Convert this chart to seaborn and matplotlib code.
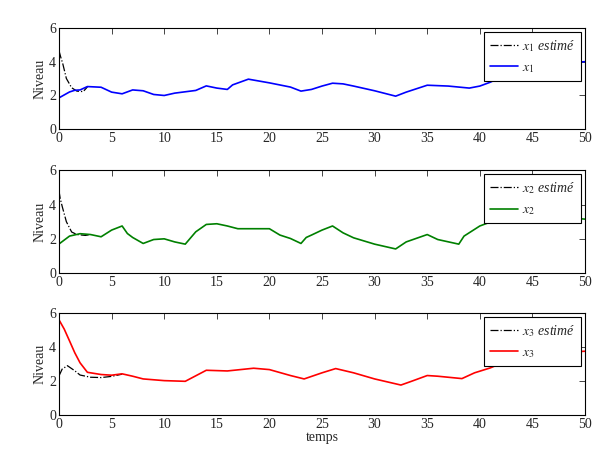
import matplotlib
matplotlib.use("Agg")
import matplotlib.pyplot as plt
import seaborn as sns

# ---- Data ----
t1 = [0, 1, 1.5, 2, 2.7, 4, 5, 6, 7, 8, 9, 10, 11, 13, 14, 15, 16, 16.5, 18, 20, 22, 23, 24, 25, 26, 27, 28, 30, 32, 33, 35, 37, 39, 40, 41, 42, 45, 48, 50]
x1 = [1.85, 2.2, 2.3, 2.32, 2.52, 2.48, 2.19, 2.09, 2.32, 2.27, 2.05, 1.99, 2.13, 2.29, 2.56, 2.43, 2.35, 2.62, 2.96, 2.74, 2.49, 2.25, 2.35, 2.55, 2.72, 2.68, 2.55, 2.27, 1.95, 2.19, 2.6, 2.55, 2.43, 2.55, 2.78, 3.08, 3.6, 3.9, 4.0]
t1e = [0, 0.15, 0.35, 0.7, 1.2, 1.7, 2.3, 2.7]
x1e = [4.65, 4.3, 3.9, 3.0, 2.45, 2.25, 2.22, 2.5]

t2 = [0, 1, 2, 3, 4, 5, 6, 6.5, 7, 8, 9, 10, 11, 12, 13, 14, 15, 16, 17, 20, 21, 22, 23, 23.5, 24, 25, 26, 27, 28, 30, 32, 33, 35, 36, 38, 38.5, 40, 41, 42, 45, 48, 50]
x2 = [1.7, 2.16, 2.3, 2.25, 2.12, 2.51, 2.75, 2.31, 2.08, 1.73, 1.96, 2.0, 1.82, 1.69, 2.41, 2.84, 2.88, 2.75, 2.59, 2.59, 2.22, 2.02, 1.73, 2.08, 2.22, 2.51, 2.75, 2.35, 2.06, 1.69, 1.41, 1.82, 2.25, 1.96, 1.69, 2.16, 2.75, 2.98, 3.1, 3.3, 3.25, 3.15]
t2e = [0, 0.1, 0.3, 0.7, 1.2, 1.7, 2.5, 3]
x2e = [4.8, 4.4, 3.9, 3.0, 2.4, 2.25, 2.2, 2.25]

t3 = [0, 0.5, 1, 1.5, 2, 2.7, 4, 5, 6, 7, 8, 10, 12, 14, 16, 18.5, 20, 22, 23.3, 25, 26.3, 28, 30, 32.5, 33.5, 35, 36, 38.3, 39.5, 41, 42.5, 45, 48, 50]
x3 = [5.6, 5.05, 4.36, 3.66, 3.07, 2.51, 2.38, 2.34, 2.42, 2.28, 2.12, 2.02, 1.98, 2.63, 2.59, 2.75, 2.67, 2.32, 2.12, 2.48, 2.73, 2.48, 2.12, 1.76, 1.98, 2.32, 2.28, 2.14, 2.48, 2.77, 3.17, 3.5, 3.7, 3.75]
t3e = [0, 0.3, 0.8, 1.5, 2, 3, 4, 5, 6]
x3e = [2.3, 2.7, 2.9, 2.6, 2.35, 2.22, 2.2, 2.27, 2.4]

series = [
    (t1, x1, t1e, x1e, "blue", "1"),
    (t2, x2, t2e, x2e, "green", "2"),
    (t3, x3, t3e, x3e, "red", "3"),
]

# ---- Style ----
sns.set_style("white")
plt.rcParams['font.family'] = 'serif'
plt.rcParams['font.serif'] = ['Liberation Serif', 'DejaVu Serif']
plt.rcParams['mathtext.fontset'] = 'stix'
plt.rcParams['font.size'] = 10

colors = {"blue": (0, 0, 1), "green": (0, 0.5, 0), "red": (1, 0, 0)}
bottoms = [0.719, 0.405, 0.096]
heights = [0.220, 0.224, 0.222]

fig = plt.figure(figsize=(6.07, 4.59), dpi=100)

for i, (t, x, te, xe, col, k) in enumerate(series):
    ax = fig.add_axes([0.0972, bottoms[i], 0.8666, heights[i]])
    sns.lineplot(x=te, y=xe, ax=ax, color='black', linestyle='-.', linewidth=0.9,
                 sort=False, estimator=None, label=r'$x_{\mathit{' + k + r'}}$ estimé')
    sns.lineplot(x=t, y=x, ax=ax, color=colors[col], linewidth=1.2,
                 sort=False, estimator=None, label=r'$x_{\mathit{' + k + r'}}$')
    ax.set_xlim(0, 50)
    ax.set_ylim(0, 6)
    ax.set_xticks(range(0, 51, 5))
    ax.set_yticks([0, 2, 4, 6])
    ax.tick_params(direction='in', top=True, right=True, length=4, width=0.6,
                   labelsize=10, pad=2)
    for s in ax.spines.values():
        s.set_color('black')
        s.set_linewidth(0.8)
    ax.set_ylabel('Niveau', fontsize=10, labelpad=2)
    if i == 2:
        ax.set_xlabel('temps', fontsize=10, labelpad=0)
    else:
        ax.set_xlabel('')
    leg = ax.legend(loc='upper right', fancybox=False, framealpha=1, edgecolor='black',
                    prop={'style': 'italic', 'size': 10}, handlelength=2.0,
                    borderaxespad=0.3, borderpad=0.4, labelspacing=0.55, handletextpad=0.3)
    leg.get_frame().set_linewidth(0.8)

plt.savefig('out.png', dpi=100)
plt.close()
